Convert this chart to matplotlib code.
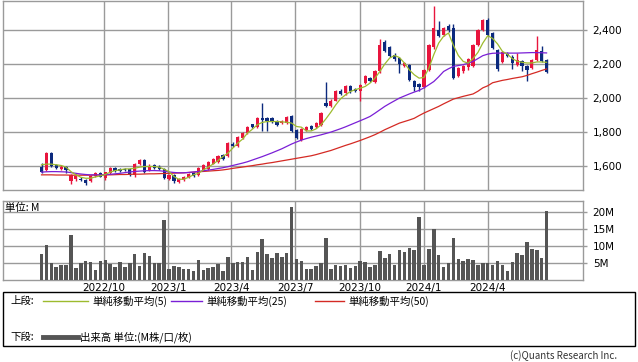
import datetime
import matplotlib
matplotlib.use("Agg")
import matplotlib.pyplot as plt
from matplotlib.lines import Line2D
from matplotlib.patches import Rectangle

# weekly bars, first week starts 2022-07-04
start = datetime.date(2022, 7, 4)
weeks = [start + datetime.timedelta(days=7 * i) for i in range(104)]

opens = [1598, 1578, 1678, 1604, 1582, 1596, 1510, 1522, 1523, 1520,
         1510, 1543, 1559, 1530, 1559, 1588, 1585, 1584, 1582, 1550,
         1612, 1637, 1578, 1604, 1598, 1585, 1525, 1548, 1505, 1516,
         1535, 1560, 1546, 1580, 1584, 1615, 1625, 1666, 1657, 1733,
         1719, 1767, 1792, 1845, 1828, 1884, 1882, 1882, 1868, 1853,
         1853, 1892, 1813, 1756, 1810, 1833, 1830, 1843, 1970, 1956,
         1985, 2044, 2027, 2070, 2052, 2039, 2086, 2120, 2095, 2157,
         2328, 2299, 2255, 2235, 2190, 2196, 2098, 2083, 2066, 2165,
         2298, 2402, 2373, 2422, 2412, 2131, 2157, 2184, 2186, 2314,
         2400, 2457, 2382, 2284, 2214, 2261, 2243, 2196, 2216, 2186,
         2176, 2225, 2274, 2225]
closes = [1568, 1680, 1600, 1590, 1598, 1580, 1549, 1545, 1516, 1500,
          1545, 1559, 1539, 1563, 1588, 1574, 1574, 1575, 1550, 1615,
          1637, 1565, 1602, 1590, 1582, 1528, 1549, 1510, 1522, 1535,
          1555, 1542, 1590, 1604, 1625, 1641, 1662, 1642, 1735, 1716,
          1774, 1796, 1831, 1828, 1880, 1872, 1864, 1860, 1843, 1863,
          1890, 1804, 1766, 1820, 1830, 1820, 1853, 1915, 1956, 1985,
          2039, 2026, 2068, 2039, 2044, 2075, 2129, 2098, 2160, 2314,
          2274, 2247, 2227, 2200, 2206, 2105, 2066, 2062, 2167, 2314,
          2412, 2363, 2412, 2398, 2118, 2176, 2186, 2229, 2312, 2402,
          2457, 2373, 2294, 2170, 2272, 2248, 2204, 2225, 2190, 2163,
          2222, 2284, 2216, 2151]
highs = [1617, 1686, 1684, 1612, 1606, 1600, 1555, 1555, 1535, 1527,
         1550, 1565, 1565, 1568, 1594, 1596, 1592, 1590, 1590, 1620,
         1645, 1642, 1610, 1610, 1604, 1592, 1555, 1552, 1528, 1540,
         1560, 1566, 1596, 1610, 1630, 1646, 1668, 1672, 1740, 1740,
         1780, 1802, 1836, 1850, 1886, 1972, 1888, 1888, 1874, 1870,
         1896, 1898, 1820, 1826, 1836, 1840, 1860, 1920, 2096, 1992,
         2045, 2052, 2075, 2078, 2058, 2080, 2135, 2126, 2166, 2349,
         2340, 2306, 2262, 2242, 2214, 2202, 2104, 2090, 2172, 2320,
         2543, 2451, 2420, 2432, 2432, 2182, 2192, 2236, 2318, 2408,
         2462, 2470, 2390, 2290, 2278, 2268, 2250, 2262, 2222, 2194,
         2228, 2367, 2303, 2232]
lows = [1562, 1572, 1595, 1584, 1578, 1560, 1494, 1512, 1510, 1492,
        1505, 1538, 1534, 1520, 1555, 1568, 1568, 1570, 1545, 1535,
        1605, 1560, 1572, 1584, 1576, 1522, 1518, 1500, 1500, 1512,
        1530, 1536, 1540, 1575, 1578, 1610, 1620, 1636, 1652, 1710,
        1714, 1762, 1786, 1822, 1822, 1804, 1806, 1854, 1838, 1846,
        1846, 1798, 1760, 1750, 1804, 1814, 1824, 1838, 1950, 1950,
        1980, 2015, 2020, 2032, 2036, 1984, 2080, 2092, 2090, 2150,
        2268, 2240, 2220, 2150, 2184, 2098, 2040, 2040, 2060, 2160,
        2290, 2356, 2366, 2390, 2112, 2126, 2150, 2165, 2180, 2308,
        2394, 2366, 2286, 2160, 2208, 2240, 2170, 2190, 2160, 2098,
        2170, 2220, 2210, 2145]

ma5 = [1608, 1612, 1612, 1608, 1604, 1594, 1568, 1549, 1535, 1529,
       1529, 1537, 1543, 1551, 1565, 1574, 1578, 1584, 1584, 1588,
       1594, 1598, 1598, 1598, 1594, 1582, 1568, 1539, 1523, 1523,
       1535, 1549, 1558, 1578, 1594, 1613, 1633, 1657, 1676, 1706,
       1735, 1759, 1794, 1817, 1843, 1857, 1862, 1862, 1862, 1860,
       1858, 1853, 1833, 1829, 1807, 1807, 1819, 1843, 1878, 1917,
       1960, 1996, 2019, 2039, 2049, 2058, 2068, 2088, 2117, 2156,
       2200, 2235, 2250, 2238, 2206, 2166, 2137, 2117, 2121, 2176,
       2255, 2323, 2363, 2382, 2310, 2250, 2215, 2205, 2232, 2268,
       2323, 2366, 2350, 2318, 2274, 2258, 2232, 2216, 2210, 2206,
       2206, 2212, 2212, 2210]
ma25 = [1565, 1567, 1568, 1568, 1567, 1566, 1562, 1558, 1554, 1551,
        1549, 1549, 1549, 1550, 1552, 1555, 1558, 1562, 1566, 1569,
        1571, 1573, 1574, 1574, 1573, 1570, 1566, 1563, 1561, 1561,
        1563, 1566, 1569, 1573, 1577, 1581, 1586, 1591, 1597, 1604,
        1611, 1618, 1626, 1636, 1646, 1656, 1667, 1678, 1690, 1702,
        1716, 1730, 1742, 1753, 1762, 1770, 1777, 1784, 1792, 1800,
        1810, 1820, 1831, 1843, 1855, 1867, 1879, 1892, 1911, 1931,
        1951, 1968, 1984, 2000, 2012, 2024, 2035, 2045, 2060, 2078,
        2097, 2125, 2156, 2172, 2186, 2191, 2196, 2205, 2215, 2232,
        2249, 2258, 2263, 2264, 2264, 2264, 2264, 2264, 2265, 2266,
        2267, 2267, 2266, 2265]
ma50 = [1549, 1549, 1549, 1548, 1548, 1548, 1547, 1547, 1547, 1547,
        1547, 1548, 1548, 1549, 1549, 1550, 1551, 1551, 1552, 1553,
        1553, 1554, 1555, 1555, 1556, 1557, 1558, 1559, 1560, 1561,
        1563, 1565, 1567, 1569, 1571, 1573, 1575, 1578, 1582, 1587,
        1591, 1595, 1599, 1603, 1608, 1612, 1617, 1621, 1626, 1631,
        1636, 1641, 1646, 1651, 1656, 1661, 1668, 1676, 1684, 1692,
        1702, 1712, 1722, 1731, 1741, 1751, 1762, 1773, 1785, 1799,
        1814, 1827, 1840, 1853, 1862, 1871, 1881, 1897, 1912, 1925,
        1938, 1951, 1966, 1980, 1994, 2002, 2010, 2017, 2024, 2040,
        2060, 2072, 2090, 2097, 2104, 2109, 2115, 2120, 2125, 2133,
        2143, 2152, 2162, 2171]

volume = [7.6, 10.3, 5.0, 3.9, 4.4, 4.4, 13.2, 3.5, 5.0, 5.6,
          5.4, 2.9, 5.6, 5.9, 4.6, 3.9, 5.4, 3.9, 5.1, 7.6,
          4.1, 8.0, 7.1, 5.0, 4.9, 17.6, 3.2, 4.1, 3.9, 3.2,
          3.2, 2.5, 5.9, 2.9, 3.6, 3.9, 4.7, 2.5, 6.8, 5.1,
          5.3, 5.3, 6.8, 2.9, 8.2, 12.1, 7.6, 6.5, 7.8, 6.7,
          7.8, 21.4, 6.1, 5.6, 3.2, 3.2, 4.1, 4.9, 12.3, 3.2,
          4.3, 4.1, 4.3, 3.5, 4.1, 5.6, 5.3, 3.8, 4.4, 8.5,
          6.5, 7.6, 4.4, 8.8, 8.2, 9.4, 8.8, 18.5, 4.4, 9.1,
          14.9, 7.4, 3.8, 4.9, 12.4, 6.2, 5.6, 6.2, 5.9, 4.4,
          4.9, 4.9, 4.4, 5.6, 4.4, 2.5, 5.3, 7.9, 7.4, 11.2,
          9.1, 8.8, 6.5, 20.3]

tick_dates = [datetime.date(2022, 10, 1), datetime.date(2023, 1, 1), datetime.date(2023, 4, 1),
              datetime.date(2023, 7, 1), datetime.date(2023, 10, 1), datetime.date(2024, 1, 1),
              datetime.date(2024, 4, 1)]
tick_labels = ["2022/10", "2023/1", "2023/4", "2023/7", "2023/10", "2024/1", "2024/4"]
price_ticks = [1600, 1800, 2000, 2200, 2400]
vol_ticks = [5, 10, 15, 20]

jp = ["Noto Sans CJK JP", "DejaVu Sans"]
grid_c = "#9a9a9a"
up_c = "#e8153d"
down_c = "#0c2a7e"

fig = plt.figure(figsize=(6.38, 3.62), dpi=100)
ax = fig.add_axes([3 / 638, 1 - 190 / 362, 580 / 638, 189 / 362])
ax2 = fig.add_axes([3 / 638, 1 - 280 / 362, 580 / 638, 79 / 362])

xmin = weeks[0] - datetime.timedelta(days=55)
xmax = weeks[-1] + datetime.timedelta(days=52)

# candles
for d, o, h, l, c in zip(weeks, opens, highs, lows, closes):
  col = up_c if c >= o else down_c
  ax.vlines(d, l, h, color=col, lw=1, zorder=3)
  ax.bar(d, max(abs(c - o), 3), bottom=min(o, c), width=4.6, color=col, lw=0, zorder=3)

ax.plot(weeks, ma50, color="#d42a24", lw=0.9, zorder=4)
ax.plot(weeks, ma25, color="#7a1fd6", lw=0.9, zorder=4)
ax.plot(weeks, ma5, color="#9dbb2e", lw=0.9, zorder=4)

ax.set_xlim(xmin, xmax)
ax.set_ylim(1460, 2570)
ax.set_xticks(tick_dates)
ax.set_xticklabels([])
ax.tick_params(axis="x", length=0)
ax.yaxis.tick_right()
ax.set_yticks(price_ticks)
ax.set_yticklabels(["{:,}".format(v) for v in price_ticks])
ax.tick_params(axis="y", length=3, width=1, color=grid_c, pad=4, labelsize=7.5)
ax.grid(True, color=grid_c, lw=1)
ax.set_axisbelow(True)

# volume
ax2.bar(weeks, volume, width=5.0, color="#555555", lw=0, zorder=3)
ax2.set_xlim(xmin, xmax)
ax2.set_ylim(0, 23.2)
ax2.set_xticks(tick_dates)
ax2.set_xticklabels(tick_labels)
ax2.tick_params(axis="x", length=0, pad=2, labelsize=7.5)
ax2.yaxis.tick_right()
ax2.set_yticks(vol_ticks)
ax2.set_yticklabels([str(v) + "M" for v in vol_ticks])
ax2.tick_params(axis="y", length=3, width=1, color=grid_c, pad=4, labelsize=7.5)
ax2.grid(True, color=grid_c, lw=1)
ax2.set_axisbelow(True)
ax2.text(0.004, 0.91, "単位: M", transform=ax2.transAxes, fontsize=7.5, family=jp, va="center", ha="left")

for a in (ax, ax2):
  for s in a.spines.values():
    s.set_color(grid_c)
    s.set_linewidth(1)

# legend box
fig.patches.append(Rectangle((3 / 638, 1 - 346 / 362), 632 / 638, 54 / 362, transform=fig.transFigure,
                             fill=False, edgecolor="black", lw=1))
y1 = 1 - 301 / 362
y2 = 1 - 337 / 362
fig.text(10 / 638, y1, "上段:", fontsize=7.5, family=jp, va="center")
fig.lines.append(Line2D([43 / 638, 88 / 638], [y1, y1], transform=fig.transFigure, color="#9dbb2e", lw=1))
fig.text(92 / 638, y1, "単純移動平均(5)", fontsize=7.5, family=jp, va="center")
fig.lines.append(Line2D([171 / 638, 202 / 638], [y1, y1], transform=fig.transFigure, color="#7a1fd6", lw=1))
fig.text(206 / 638, y1, "単純移動平均(25)", fontsize=7.5, family=jp, va="center")
fig.lines.append(Line2D([315 / 638, 344 / 638], [y1, y1], transform=fig.transFigure, color="#d42a24", lw=1))
fig.text(348 / 638, y1, "単純移動平均(50)", fontsize=7.5, family=jp, va="center")
fig.text(10 / 638, y2, "下段:", fontsize=7.5, family=jp, va="center")
fig.lines.append(Line2D([43 / 638, 78 / 638], [y2, y2], transform=fig.transFigure, color="#555555", lw=3.5))
fig.text(80 / 638, y2, "出来高 単位:(M株/口/枚)", fontsize=7.5, family=jp, va="center")

fig.text(617 / 638, 1 - 356 / 362, "(c)Quants Research Inc.", fontsize=7, family=jp, ha="right", va="center",
         color="#333333")

fig.savefig("out.png", dpi=100)
